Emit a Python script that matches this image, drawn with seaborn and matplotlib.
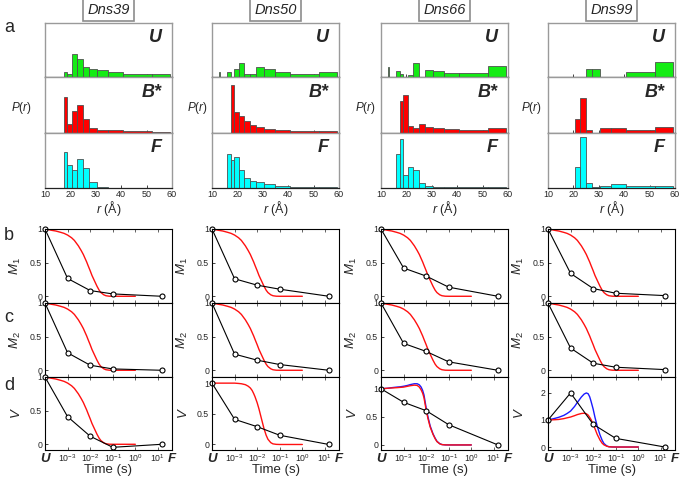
import numpy as np
import seaborn as sns
import matplotlib.pyplot as plt

# ---- data ----
proteins = ["Dns39", "Dns50", "Dns66", "Dns99"]
states = ["U", "B*", "F"]

# distance histograms, shared (uneven) bin edges in Angstrom
r_edges = [12.6, 13.1, 16.0, 17.3, 18.8, 20.7, 22.7, 24.8, 27.5, 30.6, 34.8, 40.8, 52.0, 59.3]

hist_U = [
    [0, 0, 0, 0.10, 0.055, 0.42, 0.33, 0.18, 0.16, 0.13, 0.09, 0.055, 0.055],
    [0.10, 0, 0.10, 0, 0.145, 0.27, 0.06, 0.06, 0.18, 0.16, 0.10, 0.06, 0.10],
    [0.19, 0, 0.115, 0.06, 0, 0.035, 0.27, 0.01, 0.13, 0.115, 0.085, 0.085, 0.20],
    [0, 0, 0, 0, 0, 0, 0, 0.145, 0.145, 0, 0, 0.10, 0.28],
]
hist_B = [
    [0, 0, 0, 0.64, 0.16, 0.40, 0.50, 0.25, 0.08, 0.05, 0.04, 0.025, 0.01],
    [0, 0, 0, 0.87, 0.38, 0.30, 0.22, 0.13, 0.10, 0.07, 0.04, 0.025, 0.03],
    [0, 0, 0, 0.58, 0.68, 0.12, 0.08, 0.15, 0.11, 0.08, 0.06, 0.04, 0.085],
    [0, 0, 0, 0, 0, 0.25, 0.62, 0.055, 0, 0.08, 0.08, 0.04, 0.11],
]
hist_F = [
    [0, 0, 0, 0.65, 0.42, 0.32, 0.52, 0.36, 0.11, 0.005, 0.003, 0.003, 0.003],
    [0, 0, 0.62, 0.50, 0.56, 0.32, 0.17, 0.12, 0.10, 0.06, 0.025, 0.01, 0.01],
    [0, 0, 0.62, 0.88, 0.23, 0.38, 0.32, 0.09, 0.025, 0.01, 0.008, 0.008, 0.008],
    [0, 0, 0, 0, 0, 0.38, 0.92, 0.09, 0.018, 0.035, 0.065, 0.03, 0.03],
]

# kinetics: measured points (U, 1 ms, 10 ms, 100 ms, F)
t_points = [1e-4, 1e-3, 1e-2, 1e-1, 15]
M1 = [
    [1, 0.265, 0.085, 0.035, 0.0],
    [1, 0.26, 0.165, 0.105, 0.0],
    [1, 0.42, 0.30, 0.135, 0.0],
    [1, 0.34, 0.115, 0.045, 0.01],
]
M2 = [
    [1, 0.26, 0.075, 0.02, 0.0],
    [1, 0.24, 0.15, 0.085, 0.0],
    [1, 0.40, 0.28, 0.125, 0.0],
    [1, 0.33, 0.105, 0.045, 0.01],
]
V = [
    [1, 0.41, 0.12, -0.045, 0.0],
    [1, 0.41, 0.29, 0.15, 0.0],
    [1, 0.76, 0.61, 0.36, 0.0],
    [1, 2.0, 0.84, 0.32, 0.0],
]

# model curves
t_curve = [1e-4, 2e-4, 3e-4, 5e-4, 7e-4, 1e-3, 1.5e-3, 2e-3, 3e-3, 4e-3, 5e-3, 6e-3,
           7e-3, 8e-3, 1e-2, 1.2e-2, 1.5e-2, 2e-2, 2.5e-2, 3e-2, 4e-2, 5e-2, 7e-2, 1e-1, 1.0]
red_M = [1.0, 0.98, 0.97, 0.95, 0.935, 0.91, 0.87, 0.83, 0.75, 0.68, 0.62, 0.56,
         0.51, 0.46, 0.38, 0.31, 0.24, 0.15, 0.09, 0.055, 0.022, 0.008, 0.001, 0, 0]
red_V2 = [1.0, 1.0, 1.0, 1.0, 1.0, 1.0, 0.995, 0.99, 0.975, 0.95, 0.92, 0.88,
          0.83, 0.78, 0.68, 0.58, 0.44, 0.26, 0.15, 0.085, 0.03, 0.01, 0.002, 0, 0]
red_V3 = [1.0, 1.01, 1.015, 1.02, 1.025, 1.03, 1.045, 1.055, 1.065, 1.06, 1.03, 0.98,
          0.92, 0.84, 0.62, 0.47, 0.32, 0.19, 0.11, 0.06, 0.02, 0.006, 0.001, 0, 0]
blue_V3 = [1.0, 1.01, 1.02, 1.03, 1.035, 1.045, 1.06, 1.075, 1.09, 1.09, 1.07, 1.03,
           0.97, 0.89, 0.66, 0.50, 0.34, 0.20, 0.12, 0.065, 0.022, 0.007, 0.001, 0, 0]
red_V4 = [1.0, 1.01, 1.02, 1.05, 1.08, 1.11, 1.16, 1.20, 1.24, 1.25, 1.23, 1.18,
          1.10, 1.02, 0.85, 0.68, 0.47, 0.26, 0.14, 0.08, 0.03, 0.01, 0.002, 0, 0]
blue_V4 = [1.0, 1.06, 1.10, 1.17, 1.24, 1.33, 1.50, 1.65, 1.85, 1.96, 2.0, 1.97,
           1.86, 1.70, 1.40, 1.10, 0.78, 0.45, 0.25, 0.13, 0.04, 0.01, 0.002, 0, 0]
red_V = [red_M, red_V2, red_V3, red_V4]
blue_V = [None, None, blue_V3, blue_V4]

V_ylim = [(-0.085, 1.0), (-0.09, 1.1), (-0.09, 1.21), (-0.11, 2.59)]

# ---- style ----
sns.set_style("ticks")
plt.rcParams['font.family'] = ['Liberation Sans', 'DejaVu Sans']
plt.rcParams['mathtext.fontset'] = 'custom'
plt.rcParams['mathtext.rm'] = 'Liberation Sans'
plt.rcParams['mathtext.it'] = 'Liberation Sans:italic'
plt.rcParams['mathtext.bf'] = 'Liberation Sans:bold'

W, H = 680, 478
fig = plt.figure(figsize=(6.8, 4.78), dpi=100)


def add_ax(left, top, width, height):
    return fig.add_axes([left / W, 1 - (top + height) / H, width / W, height / H])


col_left = [45, 212, 381, 548]
col_w = 127
hist_top = [22.7, 77.3, 132.7]
hist_h = [54.6, 55.4, 55.0]
line_top = [229, 303, 377]
line_h = [74, 74, 73]
plabel_x = [21, 197, 365, 531]
hist_colors = ["#14ec14", "#ff0000", "#00ffff"]
centers = [(a + b) / 2 for a, b in zip(r_edges[:-1], r_edges[1:])]

for c in range(4):
    cx = (col_left[c] + col_w / 2) / W
    fig.text(cx, 1 - 10 / H, proteins[c], style="italic", fontsize=10.5,
             ha="center", va="center",
             bbox=dict(boxstyle="square,pad=0.28", fc="white", ec="#8c8c8c", lw=1.2))

    # ---- a: distance distributions ----
    for r, (state, data) in enumerate(zip(states, [hist_U, hist_B, hist_F])):
        ax = add_ax(col_left[c], hist_top[r], col_w, hist_h[r])
        sns.histplot(x=centers, weights=data[c], bins=r_edges, color=hist_colors[r],
                     edgecolor="#505050", linewidth=0.6, alpha=1, ax=ax)
        ax.set_xlim(10, 60)
        ax.set_ylim(0, 1)
        ax.set_yticks([])
        ax.set_ylabel("")
        for s in ["left", "right", "top"]:
            ax.spines[s].set_color("#9a9a9a")
            ax.spines[s].set_linewidth(1.0)
        ax.spines["bottom"].set_color("#222222")
        ax.spines["bottom"].set_linewidth(0.9)
        ax.text(0.92, 0.88, state, transform=ax.transAxes, ha="right", va="top",
                fontsize=13, fontweight="bold", style="italic")
        ax.set_xticks([10, 20, 30, 40, 50, 60])
        ax.tick_params(axis="x", direction="in", length=2, width=0.6, labelsize=6.5, pad=2)
        if r < 2:
            ax.set_xticklabels([])
            ax.set_xlabel("")
        else:
            ax.set_xlabel("$r$ (Å)", fontsize=9)
            ax.xaxis.set_label_coords(0.5, -0.2)
    fig.text(plabel_x[c] / W, 1 - 108 / H, "$P$($r$)", fontsize=8.5, ha="center", va="center")

    # ---- b, c, d: kinetics ----
    rows = [(M1[c], red_M, None, "$M_1$", (-0.1, 1.0)),
            (M2[c], red_M, None, "$M_2$", (-0.1, 1.0)),
            (V[c], red_V[c], blue_V[c], "$V$", V_ylim[c])]
    for r, (pts, red, blue, lab, ylim) in enumerate(rows):
        ax = add_ax(col_left[c], line_top[r], col_w, line_h[r])
        ax.set_xscale("log")
        if blue is not None:
            sns.lineplot(x=t_curve, y=blue, color="#1a1aff", lw=1.0, ax=ax)
        sns.lineplot(x=t_curve, y=red, color="#ff1010", lw=1.0, ax=ax)
        sns.lineplot(x=t_points, y=pts, color="black", lw=0.8, marker="o", markersize=3.6,
                     markerfacecolor="white", markeredgecolor="black", markeredgewidth=0.8,
                     clip_on=False, ax=ax)
        ax.set_xlim(1e-4, 42)
        ax.set_ylim(*ylim)
        if c == 3 and r == 2:
            ax.set_yticks([0, 1, 2])
            ax.set_yticklabels(["0", "1", "2"])
        else:
            ax.set_yticks([0, 0.5, 1])
            ax.set_yticklabels(["0", "0.5", "1"])
        for s in ax.spines.values():
            s.set_color("black")
            s.set_linewidth(0.8)
        ax.tick_params(axis="y", direction="in", length=2, width=0.6, labelsize=6.3, pad=2)
        ax.tick_params(axis="x", which="both", direction="in", top=True, width=0.5, pad=2)
        ax.tick_params(axis="x", which="major", length=2.5)
        ax.tick_params(axis="x", which="minor", length=1.5)
        ax.set_ylabel(lab, fontsize=9.5)
        ax.yaxis.set_label_coords(-22 / col_w, 0.5)
        ax.set_xticks([1e-4, 1e-3, 1e-2, 1e-1, 1, 10, 42])
        if r < 2:
            ax.set_xticklabels([])
            ax.set_xlabel("")
        else:
            ax.set_xticklabels(["U", "$10^{-3}$", "$10^{-2}$", "$10^{-1}$",
                                "$10^{0}$", "$10^{1}$", "F"], fontsize=6.3)
            for i in (0, -1):
                lbl = ax.get_xticklabels()[i]
                lbl.set_fontsize(9.5)
                lbl.set_fontweight("bold")
                lbl.set_fontstyle("italic")
            ax.set_xlabel("Time (s)", fontsize=9.5)
            ax.xaxis.set_label_coords(0.5, -0.19)

for letter, y in zip("abcd", [28, 235, 317, 386]):
    fig.text(4 / W, 1 - y / H, letter, fontsize=13, ha="left", va="center")

plt.savefig("out.png", dpi=100)
